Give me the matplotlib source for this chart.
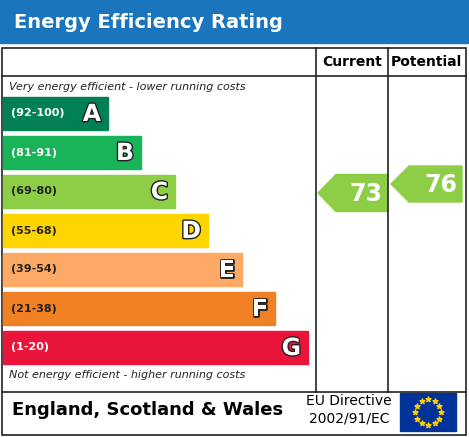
import matplotlib
matplotlib.use("Agg")
import matplotlib.pyplot as plt
import matplotlib.patheffects as pe
from matplotlib.patches import Rectangle, Polygon
import numpy as np

letters = ["A", "B", "C", "D", "E", "F", "G"]
ranges = ["(92-100)", "(81-91)", "(69-80)", "(55-68)", "(39-54)", "(21-38)", "(1-20)"]
lows = [92, 81, 69, 55, 39, 21, 1]
colors = ["#008054", "#19b459", "#8dce46", "#ffd500", "#fcaa65", "#ef8023", "#e9153b"]
current = 73
potential = 76

W, H = 469, 437
fig = plt.figure(figsize=(W/100, H/100), dpi=100)
ax = fig.add_axes([0, 0, 1, 1])
ax.set_xlim(0, W); ax.set_ylim(H, 0); ax.axis("off")

blue = "#1a75bc"
ax.add_patch(Rectangle((0, 0), W, 43, color=blue))
ax.text(14, 22, "Energy Efficiency Rating", color="white", fontsize=14, fontweight="bold", va="center")

lw = 1.2
ax.add_patch(Rectangle((2, 48), 464, 387, fill=False, ec="#222", lw=lw))
ax.plot([2, 466], [76, 76], color="#222", lw=lw)
ax.plot([2, 466], [392, 392], color="#222", lw=lw)
ax.plot([316, 316], [48, 392], color="#222", lw=lw)
ax.plot([388, 388], [48, 392], color="#222", lw=lw)
ax.text(352, 62, "Current", fontsize=10, fontweight="bold", ha="center", va="center")
ax.text(426, 62, "Potential", fontsize=10, fontweight="bold", ha="center", va="center")
ax.text(9, 87, "Very energy efficient - lower running costs", fontsize=8, style="italic", va="center", color="#222")
ax.text(9, 375, "Not energy efficient - higher running costs", fontsize=8, style="italic", va="center", color="#222")

bar_right = [108, 141, 175, 208, 242, 275, 308]
for i, (l, r, c) in enumerate(zip(letters, ranges, colors)):
    top = 97 + i * 39
    ax.add_patch(Rectangle((3, top), bar_right[i] - 3, 33, color=c))
    ax.text(11, top + 16.5, r, fontsize=8, fontweight="bold", va="center",
            color="white" if i in (0, 1, 6) else "#222")
    ax.text(bar_right[i] - 7, top + 17, l, fontsize=17, fontweight="bold", ha="right", va="center",
            color="white", path_effects=[pe.withStroke(linewidth=2, foreground="#222")])

def band_color(v):
    for lo, c in zip(lows, colors):
        if v >= lo:
            return c
    return colors[-1]

def arrow(x0, x1, yc, h, val):
    pts = [(x0, yc), (x0 + 18, yc - h/2), (x1, yc - h/2), (x1, yc + h/2), (x0 + 18, yc + h/2)]
    ax.add_patch(Polygon(pts, color=band_color(val)))
    ax.text(x1 - 5, yc + 1, str(val), fontsize=17, fontweight="bold", color="white", ha="right", va="center")

arrow(318, 387, 193, 37, current)
arrow(391, 462, 184, 36, potential)

ax.text(12, 410, "England, Scotland & Wales", fontsize=13, fontweight="bold", va="center")
ax.text(349, 401, "EU Directive", fontsize=10, ha="center", va="center")
ax.text(349, 419, "2002/91/EC", fontsize=10, ha="center", va="center")
ax.add_patch(Rectangle((400, 393), 56, 38, color="#003399"))
ang = np.linspace(0, 2*np.pi, 13)[:-1]
ax.scatter(428 + 13*np.cos(ang), 412 + 13*np.sin(ang), marker="*", s=14, color="#ffcc00", zorder=5)

fig.savefig("out.png", dpi=100)
